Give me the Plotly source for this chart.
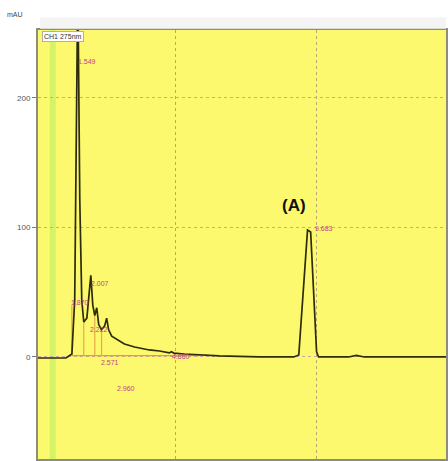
import plotly.graph_objects as go

# Detector trace, channel 1 at 275 nm: retention time (min) vs absorbance (mAU)
time_min = [0.14, 1.13, 1.34, 1.44, 1.55, 1.62, 1.69, 1.76, 1.87, 1.94, 2.01, 2.08,
            2.15, 2.22, 2.29, 2.39, 2.50, 2.57, 2.64, 2.75, 2.96, 3.20, 3.56, 4.08,
            4.44, 4.79, 4.86, 4.95, 5.32, 5.85, 6.55, 7.96, 9.19, 9.37, 9.68, 9.79,
            10.00, 10.07, 11.13, 11.41, 11.69, 14.58]
signal_mau = [-0.8, -0.8, 2.3, 44.0, 290.0, 121.0, 44.0, 27.0, 30.0, 44.0, 63.0, 40.0,
              32.0, 38.0, 25.0, 21.0, 24.0, 30.0, 21.0, 16.0, 13.0, 10.0, 7.7, 5.4,
              4.6, 3.1, 4.0, 3.0, 2.3, 1.5, 0.8, 0.0, 0.0, 1.5, 98.0, 96.5,
              3.9, 0.0, 0.0, 1.2, 0.0, 0.0]

# Integrated peaks: retention times used as labels
peak_rt = [1.549, 1.870, 2.007, 2.222, 2.571, 2.960, 4.860, 9.683]
# Label anchor heights (mAU) and horizontal nudges (px) for the peak tags
label_y = [228, 42, 57, 21, -4, -24, 0, 99]
label_dx = [9, -7, 9, 2, 3, 8, 10, 16]

# Integration baseline and peak drop lines
base_t = [1.34, 5.85]
base_v = [1.0, 1.0]
drop_t = [1.34, 1.76, 2.15, 2.39]
drop_v = [40.0, 27.0, 32.0, 21.0]

y_ticks = [0, 100, 200]

fig = go.Figure()

# light-green marker band near the start of the run
fig.add_vrect(x0=0.56, x1=0.77, fillcolor="#cdf266", opacity=0.85,
              line_width=0, layer="below")

fig.add_trace(go.Scatter(x=base_t, y=base_v, mode="lines",
                         line=dict(color="#e0a030", width=1.2), hoverinfo="skip"))
for t, v in zip(drop_t, drop_v):
    fig.add_trace(go.Scatter(x=[t, t], y=[1.0, v], mode="lines",
                             line=dict(color="#e8a848", width=1.2), hoverinfo="skip"))

fig.add_trace(go.Scatter(x=time_min, y=signal_mau, mode="lines",
                         line=dict(color="#2e2c08", width=1.7)))

for rt, ly, dx in zip(peak_rt, label_y, label_dx):
    fig.add_annotation(x=rt, y=ly, xref="x", yref="y", text=f"{rt:.3f}",
                       showarrow=False, xshift=dx,
                       font=dict(size=7, color="#c8408c", family="Liberation Sans"))

fig.add_annotation(x=9.19, y=117, xref="x", yref="y", text="<b>(A)</b>",
                   showarrow=False,
                   font=dict(size=17, color="#111111", family="Liberation Sans"))

fig.add_annotation(x=0.01, y=0.984, xref="paper", yref="paper", text="CH1 275nm",
                   xanchor="left", yanchor="middle", showarrow=False,
                   bgcolor="white", bordercolor="#b0b0b0", borderwidth=1, borderpad=1,
                   font=dict(size=7, color="#333333", family="Liberation Sans"))

fig.add_annotation(x=-0.056, y=1.035, xref="paper", yref="paper", text="mAU",
                   xanchor="center", yanchor="middle", showarrow=False,
                   font=dict(size=7, color="#444444", family="Liberation Sans"))

# toolbar strip above the plot frame
fig.add_shape(type="rect", xref="paper", yref="paper", x0=0.005, x1=1.0,
              y0=1.003, y1=1.030, fillcolor="#f4f4f4", line=dict(width=0))

fig.update_layout(
    width=448, height=461,
    margin=dict(l=38, r=0, t=30, b=2),
    paper_bgcolor="white",
    plot_bgcolor="#fcf96e",
    showlegend=False,
    xaxis=dict(range=[0.141, 14.58], tickvals=[5, 10], showticklabels=False,
               ticks="", showgrid=True, griddash="dot", gridcolor="#b8a870",
               gridwidth=1, zeroline=False, showline=True, linecolor="#8c8c80",
               linewidth=2, mirror=True),
    yaxis=dict(range=[-78.8, 252.5], tickvals=y_ticks,
               ticktext=[str(v) for v in y_ticks], ticks="outside", ticklen=4,
               tickcolor="#777777", tickfont=dict(size=8, color="#555555",
                                                   family="Liberation Sans"),
               showgrid=True, griddash="dot", gridcolor="#c8a8a0", gridwidth=1,
               zeroline=False, showline=True, linecolor="#8c8c80", linewidth=2,
               mirror=True),
)

fig.write_html("out.html")
